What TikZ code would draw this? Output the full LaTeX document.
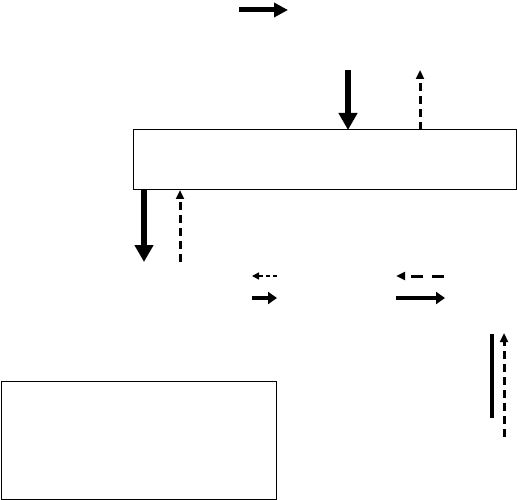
\documentclass[tikz,border=0pt]{standalone}
\usepackage{tikz}
\usetikzlibrary{arrows.meta, positioning}

\begin{document}
\begin{tikzpicture}[
  x=1pt, y=-1pt,
  blk/.style={rectangle, draw=black, line width=1pt, fill=white,
              inner sep=0pt, outer sep=0pt, anchor=north west},
  flowbig/.style={line width=5.5pt, -{Triangle[length=17pt, width=18pt]}},
  flowmid/.style={line width=5pt, -{Triangle[length=14pt, width=14pt]}},
  flowsmall/.style={line width=4.5pt, -{Triangle[length=9pt, width=12pt]}},
  sigdash/.style={line width=3pt, dash pattern=on 8pt off 5pt,
                  -{Triangle[length=9pt, width=8pt]}},
  siglong/.style={sigdash, dash pattern=on 12pt off 9pt},
  sigthin/.style={line width=1.5pt, dash pattern=on 4pt off 3pt,
                  -{Triangle[length=7pt, width=7pt]}}
]
  \useasboundingbox (0,0) rectangle (517,500);

  % boxes
  \node[blk, minimum width=383pt, minimum height=60pt] (plant) at (133,130) {};
  \node[blk, minimum width=275pt, minimum height=118pt] (store) at (1,381) {};

  % top arrow
  \coordinate (ta1) at (239,10);
  \coordinate (ta2) at (288,10);
  \draw[flowmid] (ta1) -- (ta2);

  % into and out of the wide box, top side
  \coordinate (in1) at (348,70);
  \coordinate (out1) at (420,70);
  \draw[flowbig] (in1) -- (in1 |- plant.north);
  \draw[sigdash] (out1 |- plant.north) -- (out1);

  % below the wide box
  \coordinate (dn1) at (144,262);
  \coordinate (up1) at (180,262);
  \draw[flowbig] (dn1 |- plant.south) -- (dn1);
  \draw[sigdash] (up1) -- (up1 |- plant.south);

  % middle pairs
  \coordinate (la1) at (277,276);
  \coordinate (la2) at (252,276);
  \coordinate (ra1) at (252,298);
  \coordinate (ra2) at (277,298);
  \draw[sigthin] (la1) -- (la2);
  \draw[flowsmall] (ra1) -- (ra2);

  \coordinate (lb1) at (444,276);
  \coordinate (lb2) at (396,276);
  \coordinate (rb1) at (396,298);
  \coordinate (rb2) at (445,298);
  \draw[siglong] (lb1) -- (lb2);
  \draw[flowsmall] (rb1) -- (rb2);

  % right side pair
  \coordinate (vl1) at (492,334);
  \coordinate (vl2) at (492,418);
  \coordinate (vd1) at (504,437);
  \coordinate (vd2) at (504,333);
  \draw[line width=3.5pt] (vl1) -- (vl2);
  \draw[sigdash] (vd1) -- (vd2);
\end{tikzpicture}
\end{document}
